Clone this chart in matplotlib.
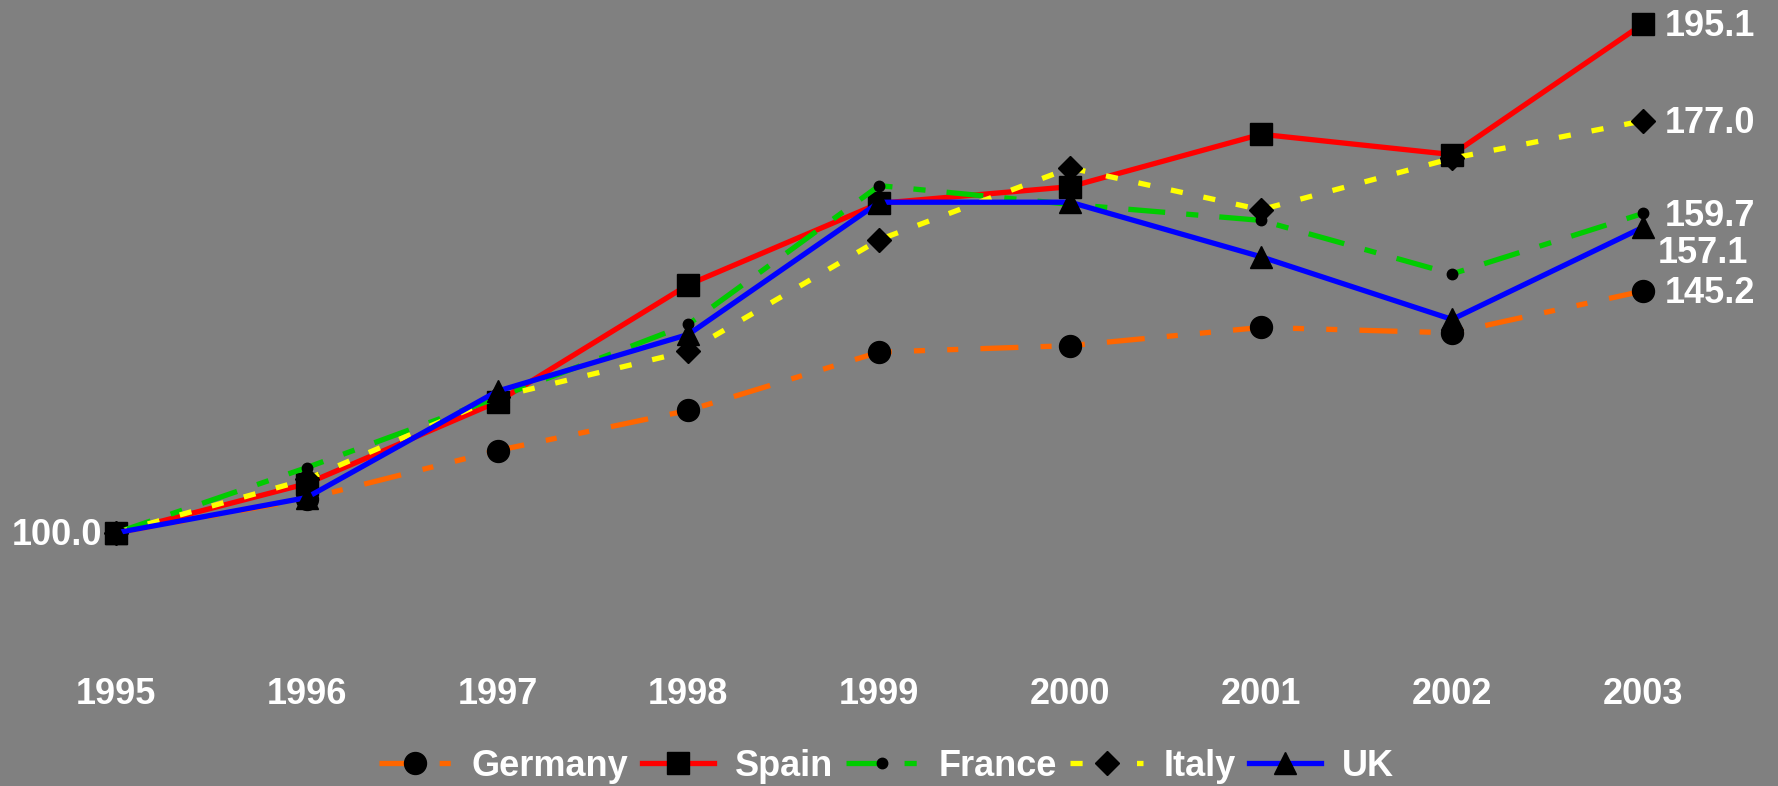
import matplotlib
matplotlib.use("Agg")
import matplotlib.pyplot as plt

# Index of prices, 1995 = 100
years = [1995, 1996, 1997, 1998, 1999, 2000, 2001, 2002, 2003]
germany = [100.0, 106.4, 115.4, 122.9, 133.8, 135.0, 138.4, 137.4, 145.2]
spain = [100.0, 109.2, 124.5, 146.4, 161.6, 164.7, 174.5, 170.7, 195.1]
france = [100.0, 112.2, 125.3, 139.0, 164.9, 161.4, 158.4, 148.4, 159.7]
italy = [100.0, 110.0, 125.4, 134.0, 154.8, 168.2, 160.4, 170.0, 177.0]
uk = [100.0, 106.6, 126.5, 137.1, 161.8, 161.8, 151.6, 139.9, 157.1]
series_names = ["Germany", "Spain", "France", "Italy", "UK"]

BG = "#808080"
FONT = "Liberation Sans"
FS = 26
LW = 3.8

plt.rcParams["font.family"] = [FONT, "DejaVu Sans"]
plt.rcParams["font.weight"] = "bold"

fig = plt.figure(figsize=(17.78, 7.86), dpi=100, facecolor=BG)
ax = fig.add_axes([0.0114, 0.1858, 0.9663, 0.8136])
ax.set_facecolor(BG)

styles = [
    dict(color="#FF6600", ls=(0, (7.2, 4.2, 2.1, 4.2, 2.1, 4.2)), marker="o", ms=15.8),
    dict(color="#FF0000", ls="-", marker="s", ms=15.8),
    dict(color="#00CC00", ls=(0, (7.0, 4.0, 2.3, 4.0)), marker="o", ms=7.5),
    dict(color="#FFFF00", ls=(0, (2.3, 4.0)), marker="D", ms=12),
    dict(color="#0000FF", ls="-", marker="^", ms=16),
]

handles = []
for name, values, st in zip(series_names, [germany, spain, france, italy, uk], styles):
    (ln,) = ax.plot(years, values, color=st["color"], linestyle=st["ls"], lw=LW,
                    marker=st["marker"], markersize=st["ms"],
                    markerfacecolor="black", markeredgecolor="black",
                    dash_capstyle="butt", clip_on=False, label=name)
    handles.append(ln)

# Value labels at the start and end of the period
lbl = dict(color="white", fontsize=FS, fontweight="bold", textcoords="offset points",
           va="center", annotation_clip=False)
ax.annotate(f"{spain[0]:.1f}", (years[0], spain[0]), xytext=(-10, -2), ha="right", **lbl)
ax.annotate(f"{spain[-1]:.1f}", (years[-1], spain[-1]), xytext=(16, -2), ha="left", **lbl)
ax.annotate(f"{italy[-1]:.1f}", (years[-1], italy[-1]), xytext=(16, -2), ha="left", **lbl)
ax.annotate(f"{france[-1]:.1f}", (years[-1], france[-1]), xytext=(16, -2), ha="left", **lbl)
ax.annotate(f"{uk[-1]:.1f}", (years[-1], uk[-1]), xytext=(11, -19), ha="left", **lbl)
ax.annotate(f"{germany[-1]:.1f}", (years[-1], germany[-1]), xytext=(16, -2), ha="left", **lbl)

ax.set_xlim(1994.5, 2003.5)
ax.set_ylim(80, 199.5)
ax.set_xticks(years)
ax.set_xticklabels([str(y) for y in years])
ax.set_yticks([])
ax.tick_params(axis="x", length=0, pad=27, labelsize=FS, labelcolor="white")
for lab in ax.get_xticklabels():
    lab.set_fontweight("bold")
for sp in ax.spines.values():
    sp.set_visible(False)

leg = fig.legend(handles=handles, labels=series_names, loc="center",
                 bbox_to_anchor=(0.4985, 0.025), ncol=5, frameon=False,
                 handlelength=2.0, handletextpad=0.58, columnspacing=0.36,
                 prop={"family": FONT, "weight": "bold", "size": FS})
for t in leg.get_texts():
    t.set_color("white")

fig.savefig("out.png", dpi=100, facecolor=BG)
